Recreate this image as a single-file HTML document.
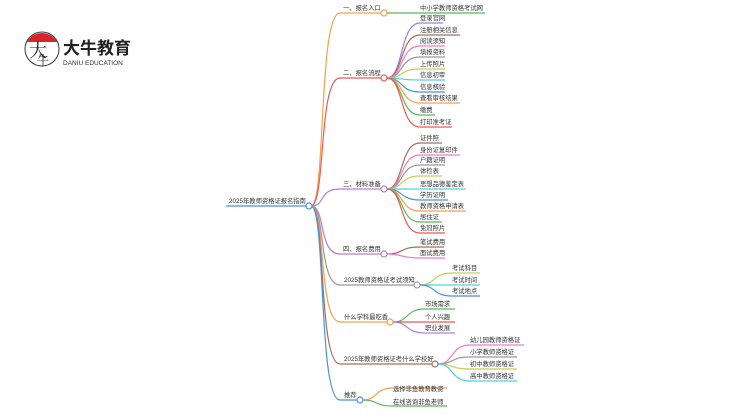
<!DOCTYPE html>
<html><head><meta charset="utf-8"><style>
body{margin:0;background:#fff;width:750px;height:410px;overflow:hidden}
svg text{font-family:"Liberation Sans","Noto Sans CJK SC",sans-serif;font-size:6.3px;fill:#333}
</style></head><body>
<svg id="s" width="750" height="410" viewBox="0 0 750 410" xmlns="http://www.w3.org/2000/svg">
<g id="lines" fill="none" stroke-width="1.2"></g>
<!-- logo -->
<circle cx="42" cy="49" r="17" fill="#fff" stroke="#333" stroke-width="1"/>
<path d="M27,42 A17,17 0 0 1 57,42 Z" fill="#d9252a"/>
<text x="29" y="57" style="font-size:18px;fill:#222;font-family:'Noto Serif CJK SC',serif">大</text>
<text x="37" y="64" style="font-size:12px;fill:#222;font-family:'Noto Serif CJK SC',serif">牛</text>
<text x="63" y="54" style="font-size:17px;font-weight:bold;fill:#222">大牛教育</text>
<text x="63" y="65" style="font-size:6.5px;fill:#333">DANIU EDUCATION</text>
<g transform="translate(0,-1)">
<text x="229" y="204">2025年教师资格证报名指南</text>
<text x="343" y="11">一、报名入口</text>
<text x="343" y="76">二、报名流程</text>
<text x="343" y="187">三、材料准备</text>
<text x="343" y="252">四、报名费用</text>
<text x="344" y="283">2025教师资格证考试须知</text>
<text x="344" y="320">什么学科最吃香</text>
<text x="344" y="362">2025年教师资格证考什么学校好</text>
<text x="344" y="398">推荐</text>
<text x="420" y="11">中小学教师资格考试网</text>
<text x="420" y="21">登录官网</text><text x="420" y="33">注册相关信息</text><text x="420" y="44">阅读须知</text><text x="420" y="55">填报资料</text><text x="420" y="67">上传照片</text><text x="420" y="78">信息初审</text><text x="420" y="90">信息核验</text><text x="420" y="101">查看审核结果</text><text x="420" y="113">缴费</text><text x="420" y="125">打印准考证</text>
<text x="420" y="141">证件照</text><text x="420" y="153">身份证复印件</text><text x="420" y="163">户籍证明</text><text x="420" y="174">体检表</text><text x="420" y="187">思想品德鉴定表</text><text x="420" y="198">学历证明</text><text x="420" y="209">教师资格申请表</text><text x="420" y="220">居住证</text><text x="420" y="231">免冠照片</text>
<text x="420" y="245">笔试费用</text><text x="420" y="256">面试费用</text>
<text x="452" y="271">考试科目</text><text x="452" y="283">考试时间</text><text x="452" y="294">考试地点</text>
<text x="425" y="307">市场需求</text><text x="425" y="320">个人兴趣</text><text x="425" y="331">职业发展</text>
<text x="470" y="343">幼儿园教师资格证</text><text x="470" y="355">小学教师资格证</text><text x="470" y="367">初中教师资格证</text><text x="470" y="379">高中教师资格证</text>
<text x="393" y="392">选择非鱼教育教资</text><text x="393" y="405">在线咨询非鱼老师</text>
</g>
<g id="circ" fill="#fff" stroke-width="1.2"></g>
</svg>
<script>
var L=document.getElementById('lines'),C=document.getElementById('circ'),ns='http://www.w3.org/2000/svg';
function p(d,c){var e=document.createElementNS(ns,'path');e.setAttribute('d',d);e.setAttribute('stroke',c);L.appendChild(e);}
function ci(x,y,c){var e=document.createElementNS(ns,'circle');e.setAttribute('cx',x);e.setAttribute('cy',y);e.setAttribute('r',3);e.setAttribute('stroke',c);C.appendChild(e);}
p('M226,206 L306,206','#4a90d9');ci(309,206,'#4a90d9');
var B=[
[13,384,'#f5a04a',420,[[13,485,'#5cb85c']]],
[78,384,'#e85a5a',420,[[23,443,'#a27de0'],[35,460,'#a07060'],[46,445,'#f07ac8'],[57,445,'#999'],[69,445,'#cccc55'],[80,445,'#4fd0e0'],[92,445,'#4a90d9'],[103,460,'#f5a04a'],[115,435,'#5cb85c'],[127,452,'#e85a5a']]],
[189,384,'#b07de0',420,[[143,442,'#a07060'],[155,460,'#f07ac8'],[165,445,'#999'],[176,442,'#cccc55'],[189,466,'#4fd0e0'],[200,448,'#4a90d9'],[211,466,'#f5a04a'],[222,442,'#5cb85c'],[233,445,'#e85a5a']]],
[254,384,'#b07de0',420,[[247,444,'#a07060'],[258,445,'#f07ac8']]],
[285,417,'#999',452,[[273,480,'#cccc55'],[285,480,'#4fd0e0'],[296,480,'#4a90d9']]],
[322,390,'#f5a04a',425,[[309,455,'#5cb85c'],[322,455,'#e85a5a'],[333,455,'#b07de0']]],
[364,435,'#a07060',470,[[345,524,'#f07ac8'],[357,517,'#999'],[369,517,'#cccc55'],[381,517,'#4fd0e0']]],
[400,360,'#4a90d9',393,[[388,447,'#f5a04a'],[406,447,'#5cb85c']]]
];
B.forEach(function(b){var y=b[0],cx=b[1],c=b[2],tx=b[3];
p('M311,206 C326,206 318,'+y+' 340,'+y+' L'+(cx-3)+','+y,c);
b[4].forEach(function(k){var m=(cx+3+tx)/2;p('M'+(cx+3)+','+y+' C'+m+','+y+' '+(m-4)+','+k[0]+' '+tx+','+k[0]+' L'+k[1]+','+k[0],k[2]);});
ci(cx,y,c);});
</script>
</body></html>
